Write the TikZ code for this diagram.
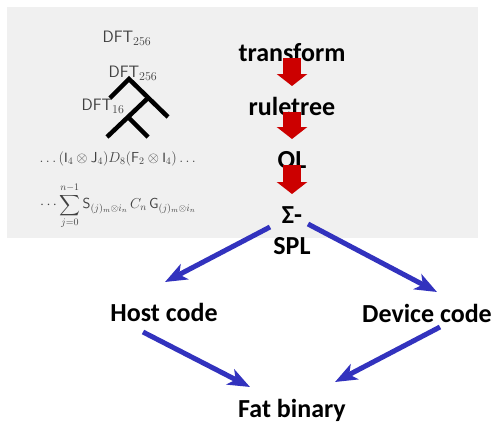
\documentclass[tikz,border=0pt]{standalone}
\usepackage{amsmath, amssymb}
\usepackage{fontspec}
\setmainfont{Carlito}
\usetikzlibrary{arrows.meta}
\definecolor{panelgray}{RGB}{240,240,240}
\definecolor{stepred}{RGB}{204,0,0}
\definecolor{flowblue}{RGB}{50,50,190}

\begin{document}
\begin{tikzpicture}[
  x=1pt, y=-1pt,
  stage/.style={font=\fontsize{26}{30}\selectfont\bfseries,
                inner sep=0pt, anchor=base},
  formula/.style={text=black!75, inner sep=0pt,
                  font=\fontsize{14.5}{17}\selectfont},
  dft/.style={formula, font=\fontsize{16.5}{19}\selectfont},
  refine/.style={line width=18pt, stepred,
                 -{Triangle[width=30pt,length=12pt]}},
  flow/.style={line width=5pt, flowblue,
               -{Stealth[length=22pt,width=17pt,inset=6pt]}},
  branch/.style={line width=4.5pt, black}
]
\useasboundingbox (0,0) rectangle (496,424);
\fill[panelgray] (7,7) rectangle (478,238);

% left panel: ruletree and formulas
\node[dft] (dfta) at (127,38) {$\mathsf{DFT}_{256}$};
\node[dft] (dftb) at (133,73) {$\mathsf{DFT}_{256}$};
\node[dft] (dftc) at (103,106) {$\mathsf{DFT}_{16}$};

\coordinate (root) at (129,79);
\coordinate (rl) at (110,98);
\coordinate (rr) at (168,117);
\coordinate (mid) at (148,98);
\coordinate (ml) at (107,137);
\coordinate (sub) at (128,117);
\coordinate (sr) at (148,137);
\draw[branch] (rl) -- (root) -- (rr);
\draw[branch] (mid) -- (ml);
\draw[branch] (sub) -- (sr);

\node[formula] (spl) at (119,159)
  {$\dots(\mathrm{I}_4\otimes\mathsf{J}_4)D_8(\mathsf{F}_2\otimes\mathrm{I}_4)\dots$};
\node[formula] (sigmaspl) at (118,206)
  {$\displaystyle\cdots\sum_{j=0}^{n-1}\mathsf{S}_{(j)_m\otimes i_n}\,C_n\,\mathsf{G}_{(j)_m\otimes i_n}$};

% stages
\node[stage] (transform) at (292,61) {transform};
\node[stage] (ruletree) at (292,115) {ruletree};
\node[stage] (ol) at (292,168) {OL};
\node[stage] (sigma) at (292,223) {Σ-};
\node[stage] (splnode) at (292,254) {SPL};
\node[stage] (host) at (164,321) {Host code};
\node[stage] (device) at (427,322) {Device code};
\node[stage] (fat) at (292,417) {Fat binary};

\foreach \a/\b in {transform/ruletree, ruletree/ol, ol/sigma}
  \draw[refine] ([shift={(0,-3)}]\a.base) -- ([shift={(0,-29)}]\b.base);

\draw[flow] ([shift={(-22,-27)}]splnode.base) -- ([shift={(1,-39)}]host.base);
\draw[flow] ([shift={(16,-30)}]splnode.base) -- ([shift={(10,-30)}]device.base);
\draw[flow] ([shift={(-21,11)}]host.base) -- ([shift={(-42,-30)}]fat.base);
\draw[flow] ([shift={(13,5)}]device.base) -- ([shift={(43,-35)}]fat.base);

\end{tikzpicture}
\end{document}
